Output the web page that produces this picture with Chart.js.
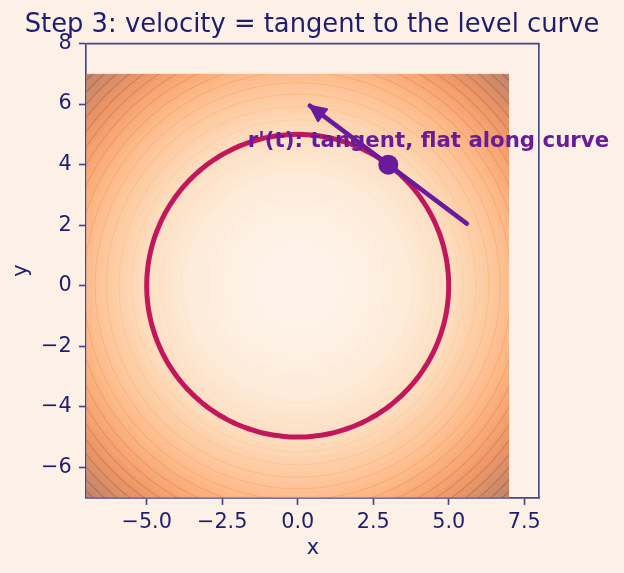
<!DOCTYPE html>
<html><head><meta charset="utf-8">
<script src="https://cdn.jsdelivr.net/npm/chart.js@4.4.0/dist/chart.umd.min.js"></script>
<style>html,body{margin:0;padding:0;background:#fdf1e7;}canvas{display:block;}</style>
</head><body>
<canvas id="c" width="624" height="573"></canvas>
<script>
// ---------- data ----------
const titleText = 'Step 3: velocity = tangent to the level curve';
const xLabel = 'x';
const yLabel = 'y';
const xTicks = [-5, -2.5, 0, 2.5, 5, 7.5];
const yTicks = [-6, -4, -2, 0, 2, 4, 6, 8];
const xRange = [-7, 8];
const yRange = [-7, 8];
const gridRange = [-7, 7];
const fillLevels = [0, 2, 4, 6, 8, 10, 12, 14, 16, 18, 20, 22, 24, 26, 28, 30, 32, 34, 36, 38, 40, 42, 44, 46, 48, 50,
                    52, 54, 56, 58, 60, 62, 64, 66, 68, 70, 72, 74, 76, 78, 80, 82, 84, 86, 88, 90, 92, 94, 96, 98, 100];
const lineLevels = [5, 10, 15, 20, 25, 30, 35, 40, 45, 50, 55, 60, 65, 70, 75, 80, 85, 90, 95];
const levelRadius = 5;          // level curve x^2 + y^2 = 25
const pointXY = [3, 4];
const arrowTail = [5.6, 2.05];
const arrowTip = [0.4, 5.95];
const annotationText = "r'(t): tangent, flat along curve";
const annotationAt = [4.33, 4.57];

// ---------- style ----------
const BG = '#fdf1e7';
const NAVY = '#1e1e6e';
const SPINE = '#46468c';
const CRIMSON = '#c2185b';
const PURPLE = '#6a1b9a';
const FONT = 'DejaVu Sans';
const ORANGES = ['#fff5eb','#fee6ce','#fdd0a2','#fdae6b','#fd8d3c','#f16913','#d94801','#a63603','#7f2704'];
const FILL_ALPHA = 0.54, LINE_ALPHA = 0.45, LINE_W = 0.9;

function hex(h){return [parseInt(h.slice(1,3),16),parseInt(h.slice(3,5),16),parseInt(h.slice(5,7),16)];}
const OR = ORANGES.map(hex);
const BGC = hex(BG);
function cmap(t){
  t = Math.max(0, Math.min(1, t));
  const p = t*(OR.length-1); const i = Math.min(OR.length-2, Math.floor(p)); const f = p-i;
  return [0,1,2].map(k => OR[i][k]*(1-f)+OR[i+1][k]*f);
}

// circle of the level curve
const circlePts = [];
for (let a = 0; a <= 360; a += 2) {
  const r = a*Math.PI/180;
  circlePts.push({x: levelRadius*Math.cos(r), y: levelRadius*Math.sin(r)});
}

const bgPlugin = {
  id: 'bg',
  beforeDraw(chart){
    const c = chart.ctx; c.save(); c.fillStyle = BG; c.fillRect(0,0,chart.width,chart.height); c.restore();
  }
};

const contourPlugin = {
  id: 'contour',
  beforeDatasetsDraw(chart){
    const xs = chart.scales.x, ys = chart.scales.y;
    const x0 = xs.getPixelForValue(gridRange[0]), x1 = xs.getPixelForValue(gridRange[1]);
    const y0 = ys.getPixelForValue(gridRange[1]), y1 = ys.getPixelForValue(gridRange[0]);
    const px0 = Math.floor(x0), px1 = Math.ceil(x1), py0 = Math.floor(y0), py1 = Math.ceil(y1);
    const w = px1-px0, h = py1-py0;
    const off = document.createElement('canvas'); off.width = w; off.height = h;
    const octx = off.getContext('2d');
    const img = octx.createImageData(w, h);
    const upp = Math.abs(xs.getValueForPixel(px0+1) - xs.getValueForPixel(px0));
    const L0 = fillLevels[0], L1 = fillLevels[fillLevels.length-1];
    const nL = fillLevels.length;
    for (let j = 0; j < h; j++) {
      const Y = ys.getValueForPixel(py0+j+0.5);
      const cy = Math.max(0, Math.min(py0+j+1, y1) - Math.max(py0+j, y0));
      for (let i = 0; i < w; i++) {
        const X = xs.getValueForPixel(px0+i+0.5);
        const cx = Math.max(0, Math.min(px0+i+1, x1) - Math.max(px0+i, x0));
        const f = X*X + Y*Y;
        let k = 0;
        while (k < nL-2 && f >= fillLevels[k+1]) k++;
        const mid = (fillLevels[k]+fillLevels[k+1])/2;
        const fc = cmap((mid-L0)/(L1-L0));
        let col = [0,1,2].map(q => fc[q]*FILL_ALPHA + BGC[q]*(1-FILL_ALPHA));
        // contour lines
        const r = Math.sqrt(f) || 1e-6;
        for (const L of lineLevels) {
          const d = Math.abs(f - L)/(2*r)/upp;
          if (d > 2) continue;
          const cov = Math.max(0, Math.min(LINE_W, LINE_W/2 + 0.5 - d));
          if (cov > 0) {
            const lc = cmap((L-L0)/(L1-L0));
            const a = LINE_ALPHA*cov;
            col = [0,1,2].map(q => lc[q]*a + col[q]*(1-a));
          }
        }
        const o = (j*w+i)*4;
        img.data[o] = col[0]; img.data[o+1] = col[1]; img.data[o+2] = col[2];
        img.data[o+3] = Math.round(255*cx*cy);
      }
    }
    octx.putImageData(img, 0, 0);
    chart.ctx.drawImage(off, px0, py0);
  }
};

const overlayPlugin = {
  id: 'overlay',
  afterDatasetDraw(chart, args){
    const c = chart.ctx, xs = chart.scales.x, ys = chart.scales.y;
    if (args.index === 2) {
      c.save();
      c.font = 'bold 21.3px "' + FONT + '"';
      c.fillStyle = PURPLE; c.textAlign = 'center'; c.textBaseline = 'alphabetic';
      c.fillText(annotationText, xs.getPixelForValue(annotationAt[0]), ys.getPixelForValue(annotationAt[1]));
      c.restore();
    }
    if (args.index === 1) {
      const tx = xs.getPixelForValue(arrowTip[0]), ty = ys.getPixelForValue(arrowTip[1]);
      const sx = xs.getPixelForValue(arrowTail[0]), sy = ys.getPixelForValue(arrowTail[1]);
      const len = Math.hypot(tx-sx, ty-sy); const ux = (tx-sx)/len, uy = (ty-sy)/len;
      const nx = -uy, ny = ux; const HL = 16, HW = 7.5;
      c.save();
      c.fillStyle = PURPLE; c.strokeStyle = PURPLE; c.lineWidth = 2; c.lineJoin = 'round';
      c.beginPath();
      c.moveTo(tx, ty);
      c.lineTo(tx - ux*HL + nx*HW, ty - uy*HL + ny*HW);
      c.lineTo(tx - ux*HL - nx*HW, ty - uy*HL - ny*HW);
      c.closePath(); c.fill(); c.stroke();
      c.restore();
    }
  },
  afterDraw(chart){
    const c = chart.ctx, a = chart.chartArea;
    c.save(); c.strokeStyle = SPINE; c.lineWidth = 1.67;
    c.beginPath(); c.moveTo(a.left, a.top); c.lineTo(a.right, a.top); c.stroke();
    c.restore();
  }
};

function fmtX(v){ const s = Number(v).toFixed(1); return v < 0 ? '\u2212' + s.slice(1) : s; }
function fmtY(v){ const s = String(v); return v < 0 ? '\u2212' + s.slice(1) : s; }

const tickFont = {family: FONT, size: 20.8};
const chart = new Chart(document.getElementById('c'), {
  type: 'scatter',
  data: { datasets: [
    { label: 'point', data: [{x: pointXY[0], y: pointXY[1]}], pointRadius: 10, pointBackgroundColor: PURPLE, pointBorderWidth: 0, showLine: false },
    { label: 'velocity', data: [{x: arrowTail[0], y: arrowTail[1]}, {x: arrowTip[0], y: arrowTip[1]}], showLine: true, borderColor: PURPLE, borderWidth: 4.5, pointRadius: 0, borderCapStyle: 'round' },
    { label: 'level curve', data: circlePts, showLine: true, borderColor: CRIMSON, borderWidth: 5, pointRadius: 0, tension: 0.3, borderJoinStyle: 'round' }
  ]},
  options: {
    responsive: false, devicePixelRatio: 1, animation: false,
    layout: {padding: {top: 0, right: 0, left: 0, bottom: 0}},
    plugins: {
      legend: {display: false}, tooltip: {enabled: false},
      title: {display: true, text: titleText, color: NAVY, font: {family: FONT, size: 25.8, weight: 'normal', lineHeight: 1.2}, padding: {top: 9.5, bottom: 3.1}}
    },
    scales: {
      x: {
        type: 'linear', position: 'bottom', min: xRange[0], max: xRange[1],
        afterBuildTicks: s => { s.ticks = xTicks.map(v => ({value: v})); },
        afterFit: s => { s.height = 75.4; },
        ticks: {color: NAVY, font: tickFont, padding: 5, maxRotation: 0, autoSkip: false, callback: v => fmtX(v)},
        grid: {drawOnChartArea: false, drawTicks: true, tickLength: 7.3, tickWidth: 1.67, tickColor: SPINE},
        border: {display: true, color: SPINE, width: 1.67},
        title: {display: true, text: xLabel, color: NAVY, font: {family: FONT, size: 20.8, lineHeight: 1.2}, padding: {top: 0, bottom: 11.5}}
      },
      y: {
        type: 'linear', position: 'left', min: yRange[0], max: yRange[1],
        afterBuildTicks: s => { s.ticks = yTicks.map(v => ({value: v})); },
        afterFit: s => { s.width = 86.3; },
        ticks: {color: NAVY, font: tickFont, padding: 7.3, autoSkip: false, callback: v => fmtY(v)},
        grid: {drawOnChartArea: false, drawTicks: true, tickLength: 7.3, tickWidth: 1.67, tickColor: SPINE},
        border: {display: true, color: SPINE, width: 1.67},
        title: {display: true, text: yLabel, color: NAVY, font: {family: FONT, size: 20.8, lineHeight: 1.2}, padding: {top: 8.8, bottom: 0}}
      },
      y2: {
        type: 'linear', position: 'right', min: yRange[0], max: yRange[1],
        afterFit: s => { s.width = 84.7; },
        ticks: {display: false},
        grid: {display: false, drawTicks: false},
        border: {display: true, color: SPINE, width: 1.67}
      }
    }
  },
  plugins: [bgPlugin, contourPlugin, overlayPlugin]
});
</script>
</body></html>
